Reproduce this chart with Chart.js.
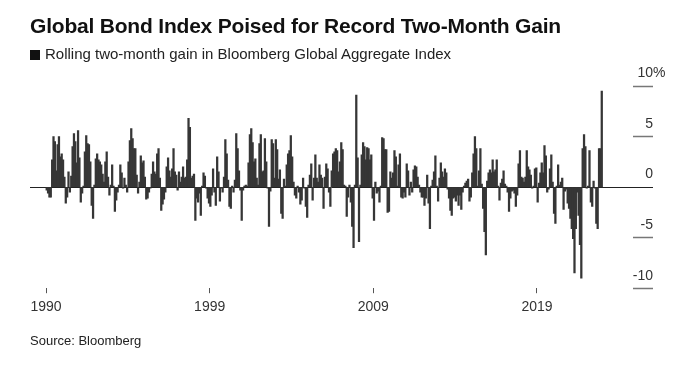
<!DOCTYPE html>
<html>
<head>
<meta charset="utf-8">
<script src="https://cdn.jsdelivr.net/npm/chart.js@4.4.1/dist/chart.umd.min.js"></script>
<style>
    body { margin: 0; background: #fff; font-family: "Liberation Sans", Arial, sans-serif; color: #111; }
    #wrap { position: relative; width: 700px; height: 371px; overflow: hidden; }
    #gainChart { position: absolute; left: 0; top: 0; }
    h1 { position: absolute; left: 30px; top: 14px; margin: 0; font-size: 21px; font-weight: bold; letter-spacing: -0.2px; white-space: nowrap; }
    .subtitle { position: absolute; left: 30px; top: 45px; font-size: 15px; white-space: nowrap; color: #222; }
    .subtitle .key { display: inline-block; width: 10px; height: 10px; background: #111; margin-right: 5px; vertical-align: -1px; }
    .source { position: absolute; left: 30px; top: 333px; font-size: 13px; color: #222; }
</style>
</head>
<body>
<div id="wrap">
    <canvas id="gainChart" width="700" height="371"></canvas>
    <h1>Global Bond Index Poised for Record Two-Month Gain</h1>
    <div class="subtitle"><span class="key"></span>Rolling two-month gain in Bloomberg Global Aggregate Index</div>
    <div class="source">Source: Bloomberg</div>
</div>
<script>
// rolling two-month gain (%), monthly, Jan 1990 .. Dec 2023
const gains = [
    -0.3, -0.6, -1.0, -1.0, 2.7, 5.0, 4.5, 1.6, 4.2, 5.0, 3.0, 3.3,   // 1990
    2.7, 1.0, -1.6, -1.0, 1.5, -0.5, 1.1, 4.0, 5.3, 4.5, 2.4, 5.6,    // 1991
    2.9, -1.5, -0.6, 0.1, 3.5, 5.1, 4.3, 4.2, 2.5, -1.8, -3.1, 0.2,   // 1992
    2.8, 3.3, 2.7, 2.5, 2.2, 1.3, 0.5, 2.5, 3.5, 1.0, -0.8, 0.2,      // 1993
    2.2, 0.1, -2.4, -1.3, -0.5, 0.2, 2.2, 1.4, -0.1, 0.9, 0.2, -0.5,  // 1994
    2.5, 4.6, 5.8, 4.8, 3.8, 3.8, 1.2, -0.6, 0.5, 3.1, 2.4, 2.6,      // 1995
    1.0, -1.2, -1.1, -0.5, -0.1, 1.3, 2.5, 1.5, 1.3, 3.3, 3.8, 0.9,   // 1996
    -2.3, -1.7, -1.2, -0.5, 2.0, 2.9, 1.6, 1.0, 1.8, 3.8, 1.5, 1.2,   // 1997
    -0.3, 1.5, 0.5, 1.0, 2.0, 0.9, 1.0, 2.7, 6.8, 5.9, 0.9, 1.1,      // 1998
    1.3, -3.3, -1.1, -1.5, -0.6, -2.8, 0.1, 1.4, 1.1, -0.1, -1.1, -1.6, // 1999
    -1.9, -0.8, 1.8, -0.5, -1.8, 3.0, 1.5, -1.4, -0.1, -0.5, 1.0, 4.7, // 2000
    3.3, 0.7, -1.9, -2.1, 0.1, -0.5, 0.7, 5.3, 3.8, 1.6, -0.3, -3.3,  // 2001
    -0.3, 0.1, 0.2, 0.1, 2.4, 5.2, 5.8, 4.4, 2.5, 2.8, 0.9, 0.2,      // 2002
    4.3, 5.2, 1.5, 1.6, 4.8, 2.5, -0.1, -3.9, -0.4, 4.7, 4.3, 0.9,    // 2003
    4.7, 3.7, 0.8, 1.7, -2.6, -3.1, 0.8, 0.1, 2.2, 3.3, 3.6, 5.1,     // 2004
    3.0, 0.5, -0.8, -1.1, 0.1, -0.5, -1.7, -1.3, 0.9, -0.1, -1.9, -3.0, // 2005
    0.2, 1.2, 2.3, -1.3, 0.9, 3.2, 0.9, 0.5, 2.2, 1.2, 0.9, -2.1,     // 2006
    1.0, 2.3, 1.8, -0.5, -1.9, 1.6, 3.3, 3.5, 3.8, 3.6, 1.5, 2.5,     // 2007
    4.4, 3.7, 0.2, 0.1, -2.9, -1.0, 0.2, -1.5, -3.9, -6.0, 0.2, 9.1,  // 2008
    2.9, -5.4, 0.2, 3.2, 4.4, 4.0, 2.7, 3.9, 3.8, 2.7, 3.2, -1.1,     // 2009
    -3.3, 0.5, -0.6, -0.4, -1.5, 0.1, 4.9, 4.8, 3.7, 3.7, -2.5, -2.4, // 2010
    1.5, 0.9, 1.4, 3.6, 3.0, 0.1, 2.2, 3.3, -1.0, -1.1, -0.5, -1.0,   // 2011
    2.3, 1.6, -0.8, 0.5, -0.5, 1.7, 2.1, 2.0, 1.0, 0.2, -0.5, -1.0,   // 2012
    -1.0, -1.8, -1.1, 1.2, -1.6, -4.1, 0.1, 0.7, 1.5, 3.1, 0.1, -1.4, // 2013
    0.9, 2.4, 1.5, 1.0, 1.8, 1.4, -0.2, -1.1, -2.3, -2.8, -1.1, -1.0, // 2014
    -1.4, -0.8, -1.8, -0.8, -2.2, -0.5, 0.1, 0.4, 0.6, 0.8, -1.4, -1.0, // 2015
    1.4, 3.3, 5.0, 3.8, 0.1, 1.6, 3.8, 0.3, -2.1, -4.4, -6.7, 0.6,    // 2016
    1.4, 1.7, 1.4, 2.7, 1.5, 1.7, 2.7, 0.1, -1.3, 0.4, 0.8, 1.6,      // 2017
    0.3, 0.1, -0.5, -2.4, -1.1, -0.4, -0.3, -0.6, -1.9, -0.8, 2.3, 3.6, // 2018
    1.0, 0.9, 0.5, 1.0, 3.6, 2.0, 1.7, 1.2, -0.1, 0.1, 1.8, 1.9,      // 2019
    -1.5, 0.4, 1.4, 2.4, 1.4, 4.1, 3.1, -0.5, -0.2, 1.8, 3.2, 0.5,    // 2020
    -2.6, -3.6, 0.1, 2.2, 0.2, 0.5, 0.9, -2.2, -0.4, -0.2, -1.6, -2.1, // 2021
    -3.1, -4.1, -5.1, -8.5, -4.1, -0.5, -2.8, -5.7, -9.0, 3.8, 5.2, 4.0, // 2022
    -0.1, 0.1, 3.6, -1.5, -1.9, 0.6, -0.1, -3.6, -4.1, 3.8, 3.8, 9.5  // 2023
];

// months counted from Jan 1990
const months = gains.map((_, i) => i);

const xTickMonths = [0, 120, 240, 360];
const xTickLabels = ["1990", "1999", "2009", "2019"];
const yTicks = [-10, -5, 0, 5, 10];

const labelFont = { family: "'Liberation Sans', Arial, sans-serif", size: 14 };

// value labels sit above the short tick marks on the right
const yLabelPlugin = {
    id: "yLabels",
    afterDraw(chart) {
        const { ctx } = chart;
        const y = chart.scales.y;
        ctx.save();
        ctx.font = `${labelFont.size}px ${labelFont.family}`;
        ctx.fillStyle = "#333";
        ctx.textBaseline = "middle";
        y.ticks.forEach((tick) => {
            const py = y.getPixelForValue(tick.value) - 12.5;
            ctx.textAlign = "right";
            ctx.fillText(String(tick.value), y.right, py);
            if (tick.value === yTicks[yTicks.length - 1]) {
                ctx.textAlign = "left";
                ctx.fillText("%", y.right, py);
            }
        });
        ctx.restore();
    },
};

new Chart(document.querySelector("#gainChart"), {
    type: "bar",
    data: {
        labels: months,
        datasets: [
            {
                label: "Two-month gain",
                data: gains,
                backgroundColor: "#363636",
                borderWidth: 0,
                barThickness: 1.6,
            },
        ],
    },
    options: {
        responsive: false,
        animation: false,
        layout: {
            padding: { left: 30, right: 47, top: 86, bottom: 49 },
        },
        scales: {
            x: {
                type: "linear",
                min: -12.24,
                max: 429.9,
                offset: false,
                border: { display: false },
                grid: {
                    offset: false,
                    drawOnChartArea: false,
                    drawTicks: true,
                    tickLength: 5,
                    tickColor: "#555",
                    tickWidth: 1,
                },
                afterBuildTicks: (scale) => {
                    scale.ticks = xTickMonths.map((m) => ({ value: m - 0.5 }));
                },
                ticks: {
                    autoSkip: false,
                    maxRotation: 0,
                    padding: 6,
                    color: "#333",
                    font: labelFont,
                    callback: (value, index) => xTickLabels[index],
                },
            },
            y: {
                position: "right",
                min: -10,
                max: 10,
                border: { display: false },
                afterBuildTicks: (scale) => {
                    scale.ticks = yTicks.map((v) => ({ value: v }));
                },
                grid: {
                    drawOnChartArea: true,
                    drawTicks: true,
                    tickLength: 20,
                    color: (c) => (c.tick && c.tick.value === 0 ? "#222" : "rgba(0,0,0,0)"),
                    lineWidth: 1,
                    tickColor: (c) => (c.tick && c.tick.value === 0 ? "#222" : "#777"),
                    tickWidth: (c) => (c.tick && c.tick.value === 0 ? 1 : 1.5),
                },
                ticks: { display: false },
            },
        },
        plugins: {
            legend: { display: false },
            tooltip: {
                callbacks: {
                    title: (items) => {
                        const m = items[0].parsed.x;
                        return `${1990 + Math.floor(m / 12)}-${String((m % 12) + 1).padStart(2, "0")}`;
                    },
                    label: (context) => `Gain: ${context.parsed.y}%`,
                },
            },
        },
    },
    plugins: [yLabelPlugin],
});
</script>
</body>
</html>
